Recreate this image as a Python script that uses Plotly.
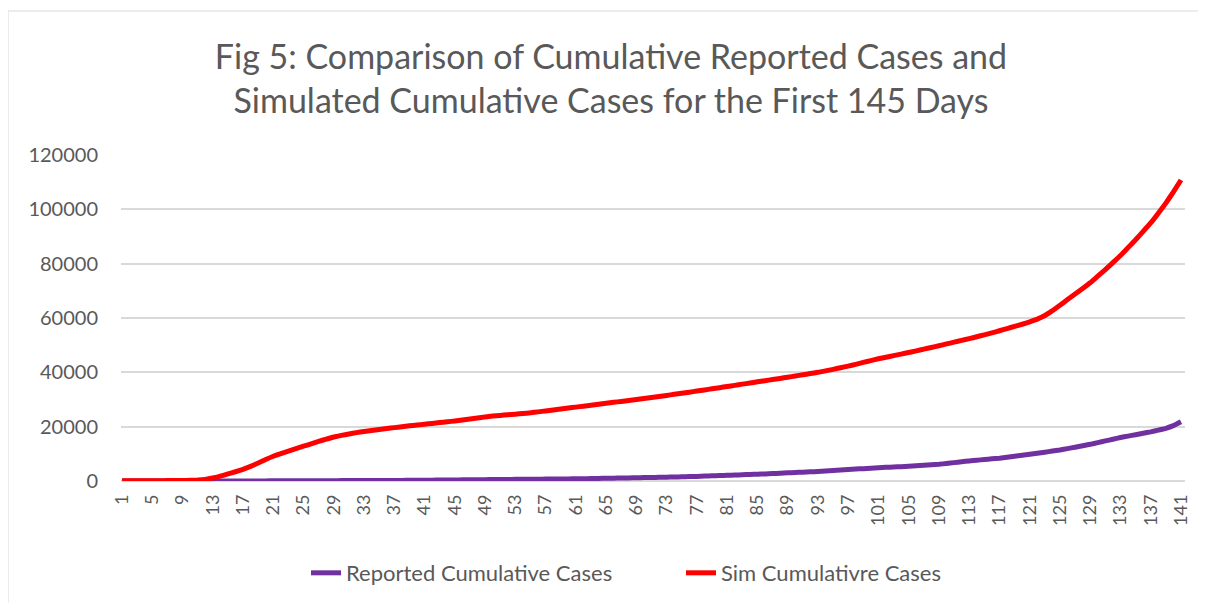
import plotly.graph_objects as go

days = list(range(1, 142))

reported = [
    0, 0, 0, 0, 0, 0, 0, 0, 0, 0,
    0, 5, 10, 15, 20, 25, 30, 35, 40, 45,
    50, 60, 70, 80, 90, 100, 110, 120, 130, 140,
    150, 160, 170, 180, 190, 200, 215, 230, 250, 270,
    300, 320, 350, 370, 400, 420, 450, 470, 500, 520,
    550, 570, 600, 620, 650, 670, 700, 720, 750, 770,
    800, 850, 900, 950, 1000, 1050, 1100, 1150, 1200, 1250,
    1300, 1350, 1400, 1480, 1550, 1620, 1700, 1800, 1900, 2000,
    2100, 2200, 2300, 2400, 2500, 2620, 2740, 2870, 3000, 3120,
    3250, 3370, 3500, 3670, 3850, 4020, 4200, 4380, 4550, 4720,
    4900, 5020, 5150, 5270, 5400, 5580, 5770, 5960, 6150, 6450,
    6760, 7080, 7400, 7650, 7900, 8150, 8400, 8750, 9120, 9480,
    9850, 10230, 10620, 11010, 11400, 11920, 12450, 12970, 13500, 14120,
    14750, 15370, 16000, 16520, 17050, 17570, 18100, 18750, 19400, 20400,
    21800,
]

simulated = [
    100, 100, 100, 100, 100, 100, 150, 150, 200, 250,
    350, 600, 1100, 1800, 2600, 3400, 4300, 5400, 6600, 7900,
    9100, 10100, 11000, 11900, 12800, 13700, 14600, 15400, 16200, 16800,
    17300, 17800, 18200, 18600, 18950, 19300, 19650, 19950, 20300, 20600,
    20900, 21200, 21500, 21800, 22100, 22450, 22800, 23200, 23600, 23900,
    24150, 24400, 24600, 24850, 25100, 25450, 25800, 26150, 26500, 26850,
    27200, 27550, 27900, 28250, 28600, 28950, 29300, 29650, 30000, 30400,
    30750, 31100, 31500, 31900, 32300, 32700, 33100, 33500, 33950, 34350,
    34800, 35200, 35650, 36050, 36500, 36900, 37350, 37750, 38200, 38650,
    39100, 39550, 40000, 40550, 41100, 41700, 42300, 42950, 43650, 44300,
    45000, 45550, 46150, 46700, 47300, 47900, 48550, 49150, 49800, 50450,
    51100, 51750, 52400, 53100, 53800, 54550, 55300, 56100, 56900, 57700,
    58600, 59600, 60900, 62700, 64700, 66800, 68800, 70900, 73000, 75400,
    77800, 80400, 83000, 85900, 88800, 91900, 95000, 98600, 102300, 106400,
    110800,
]

tick_vals = list(range(1, 142, 4))
tick_text = [str(v) for v in tick_vals]
y_ticks = [0, 20000, 40000, 60000, 80000, 100000, 120000]
y_tick_text = [str(v) for v in y_ticks]

FONT = "Lato"
GRAY = "#595959"
GRID = "#d9d9d9"

fig = go.Figure()
fig.add_trace(go.Scatter(
    x=days, y=reported, mode="lines", name="Reported Cumulative Cases",
    line=dict(color="#7030A0", width=5, shape="spline", smoothing=0.3),
))
fig.add_trace(go.Scatter(
    x=days, y=simulated, mode="lines", name="Sim Cumulativre Cases",
    line=dict(color="#FF0000", width=5, shape="spline", smoothing=0.3),
))

L, T = 113, 147
fig.update_layout(
    width=1206, height=603,
    paper_bgcolor="white", plot_bgcolor="white",
    margin=dict(l=L, r=29, t=T, b=130),
    font=dict(family=FONT, color=GRAY, size=17),
    title=dict(
        text="Fig 5: Comparison of Cumulative Reported Cases and<br>Simulated Cumulative Cases for the First 145 Days",
        x=0.5, xanchor="center", xref="container",
        y=0.899, yanchor="top", yref="container",
        font=dict(family=FONT, size=34, color=GRAY),
    ),
    xaxis=dict(
        range=[0.868, 141.53],
        tickmode="array", tickvals=tick_vals, ticktext=tick_text,
        tickangle=-90, showgrid=False, zeroline=False,
        showline=False, ticks="", ticklabelstandoff=9,
        tickfont=dict(family=FONT, size=18, color=GRAY),
    ),
    yaxis=dict(
        range=[0, 120000],
        tickmode="array", tickvals=y_ticks, ticktext=y_tick_text,
        showgrid=True, gridcolor=GRID, gridwidth=1.5,
        zeroline=True, zerolinecolor=GRID, zerolinewidth=1.5,
        showline=False, ticks="", ticklabelstandoff=22,
        tickfont=dict(family=FONT, size=20, color=GRAY),
    ),
    legend=dict(
        orientation="h", xref="container", yref="container",
        x=298 / 1206, xanchor="left", y=0.063, yanchor="middle",
        font=dict(family=FONT, size=22, color=GRAY),
        tracegroupgap=0, entrywidth=330, entrywidthmode="pixels",
    ),
    showlegend=True,
    shapes=[dict(
        type="rect", xref="paper", yref="paper",
        x0=(0 - L) / 1064, x1=(1215 - 8 - L) / 1064,
        y0=(326 + T - 610) / 326, y1=(326 + T - 3) / 326,
        line=dict(color=GRID, width=1), fillcolor="rgba(0,0,0,0)",
        layer="below",
    )],
)

fig.write_html("out.html")
